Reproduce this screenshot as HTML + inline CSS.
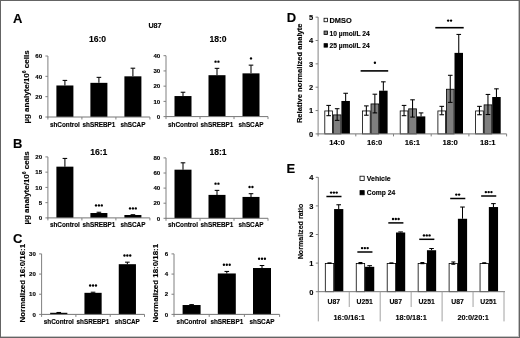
<!DOCTYPE html>
<html><head><meta charset="utf-8"><title>Figure</title>
<style>html,body{margin:0;padding:0;background:#fff;}body{width:520px;height:338px;overflow:hidden;}svg{display:block;font-family:'Liberation Sans', sans-serif;}</style>
</head><body>
<svg width="520" height="338" viewBox="0 0 520 338">
<defs><filter id="bl" x="0" y="0" width="520" height="338" filterUnits="userSpaceOnUse"><feGaussianBlur stdDeviation="0.35"/></filter></defs>
<rect x="0" y="0" width="520" height="338" fill="#fff"/>
<g filter="url(#bl)">
<text x="17.8" y="22.6" font-size="13" text-anchor="middle" font-weight="bold" fill="#000" stroke="#000" stroke-width="0.14">A</text>
<text x="17.8" y="147.6" font-size="13" text-anchor="middle" font-weight="bold" fill="#000" stroke="#000" stroke-width="0.14">B</text>
<text x="17.8" y="242.6" font-size="13" text-anchor="middle" font-weight="bold" fill="#000" stroke="#000" stroke-width="0.14">C</text>
<text x="291.4" y="22" font-size="13" text-anchor="middle" font-weight="bold" fill="#000" stroke="#000" stroke-width="0.14">D</text>
<text x="290.8" y="172.5" font-size="13" text-anchor="middle" font-weight="bold" fill="#000" stroke="#000" stroke-width="0.14">E</text>
<text x="155" y="28" font-size="7.2" text-anchor="middle" font-weight="bold" fill="#000" stroke="#000" stroke-width="0.14">U87</text>
<line x1="64.90" y1="80.40" x2="64.90" y2="85.48" stroke="#000" stroke-width="1.05"/>
<line x1="62.60" y1="80.40" x2="67.20" y2="80.40" stroke="#000" stroke-width="1.05"/>
<rect x="56.40" y="85.48" width="17.00" height="31.52" fill="#000"/>
<line x1="98.90" y1="77.35" x2="98.90" y2="82.84" stroke="#000" stroke-width="1.05"/>
<line x1="96.60" y1="77.35" x2="101.20" y2="77.35" stroke="#000" stroke-width="1.05"/>
<rect x="90.40" y="82.84" width="17.00" height="34.16" fill="#000"/>
<line x1="132.90" y1="68.20" x2="132.90" y2="76.33" stroke="#000" stroke-width="1.05"/>
<line x1="130.60" y1="68.20" x2="135.20" y2="68.20" stroke="#000" stroke-width="1.05"/>
<rect x="124.40" y="76.33" width="17.00" height="40.67" fill="#000"/>
<line x1="47.90" y1="56.00" x2="47.90" y2="117.50" stroke="#808080" stroke-width="1"/>
<line x1="47.40" y1="117.00" x2="149.90" y2="117.00" stroke="#767676" stroke-width="1"/>
<line x1="45.40" y1="117.00" x2="47.90" y2="117.00" stroke="#808080" stroke-width="1"/>
<text x="42.1" y="119.2" font-size="6.1" text-anchor="end" font-weight="bold" fill="#000" stroke="#000" stroke-width="0.14">0</text>
<line x1="45.40" y1="96.67" x2="47.90" y2="96.67" stroke="#808080" stroke-width="1"/>
<text x="42.1" y="98.9" font-size="6.1" text-anchor="end" font-weight="bold" fill="#000" stroke="#000" stroke-width="0.14">20</text>
<line x1="45.40" y1="76.33" x2="47.90" y2="76.33" stroke="#808080" stroke-width="1"/>
<text x="42.1" y="78.5" font-size="6.1" text-anchor="end" font-weight="bold" fill="#000" stroke="#000" stroke-width="0.14">40</text>
<line x1="45.40" y1="56.00" x2="47.90" y2="56.00" stroke="#808080" stroke-width="1"/>
<text x="42.1" y="58.2" font-size="6.1" text-anchor="end" font-weight="bold" fill="#000" stroke="#000" stroke-width="0.14">60</text>
<line x1="47.90" y1="117.00" x2="47.90" y2="119.50" stroke="#808080" stroke-width="1"/>
<line x1="81.90" y1="117.00" x2="81.90" y2="119.50" stroke="#808080" stroke-width="1"/>
<line x1="115.90" y1="117.00" x2="115.90" y2="119.50" stroke="#808080" stroke-width="1"/>
<line x1="149.90" y1="117.00" x2="149.90" y2="119.50" stroke="#808080" stroke-width="1"/>
<text x="64.9" y="126.8" font-size="6.35" text-anchor="middle" font-weight="bold" fill="#000" stroke="#000" stroke-width="0.14">shControl</text>
<text x="98.9" y="126.8" font-size="6.35" text-anchor="middle" font-weight="bold" fill="#000" stroke="#000" stroke-width="0.14">shSREBP1</text>
<text x="132.9" y="126.8" font-size="6.35" text-anchor="middle" font-weight="bold" fill="#000" stroke="#000" stroke-width="0.14">shSCAP</text>
<text x="97.5" y="41.6" font-size="8.6" text-anchor="middle" font-weight="bold" fill="#000" stroke="#000" stroke-width="0.14">16:0</text>
<line x1="183.00" y1="92.24" x2="183.00" y2="96.05" stroke="#000" stroke-width="1.05"/>
<line x1="180.70" y1="92.24" x2="185.30" y2="92.24" stroke="#000" stroke-width="1.05"/>
<rect x="174.50" y="96.05" width="17.00" height="20.55" fill="#000"/>
<line x1="217.00" y1="68.34" x2="217.00" y2="75.19" stroke="#000" stroke-width="1.05"/>
<line x1="214.70" y1="68.34" x2="219.30" y2="68.34" stroke="#000" stroke-width="1.05"/>
<rect x="208.50" y="75.19" width="17.00" height="41.41" fill="#000"/>
<circle cx="215.55" cy="61.64" r="1.18" fill="#000"/>
<circle cx="218.45" cy="61.64" r="1.18" fill="#000"/>
<line x1="251.00" y1="65.14" x2="251.00" y2="73.36" stroke="#000" stroke-width="1.05"/>
<line x1="248.70" y1="65.14" x2="253.30" y2="65.14" stroke="#000" stroke-width="1.05"/>
<rect x="242.50" y="73.36" width="17.00" height="43.24" fill="#000"/>
<circle cx="251.00" cy="58.44" r="1.18" fill="#000"/>
<line x1="166.00" y1="55.70" x2="166.00" y2="117.10" stroke="#808080" stroke-width="1"/>
<line x1="165.50" y1="116.60" x2="268.00" y2="116.60" stroke="#767676" stroke-width="1"/>
<line x1="163.50" y1="116.60" x2="166.00" y2="116.60" stroke="#808080" stroke-width="1"/>
<text x="160.2" y="118.8" font-size="6.1" text-anchor="end" font-weight="bold" fill="#000" stroke="#000" stroke-width="0.14">0</text>
<line x1="163.50" y1="101.38" x2="166.00" y2="101.38" stroke="#808080" stroke-width="1"/>
<text x="160.2" y="103.6" font-size="6.1" text-anchor="end" font-weight="bold" fill="#000" stroke="#000" stroke-width="0.14">10</text>
<line x1="163.50" y1="86.15" x2="166.00" y2="86.15" stroke="#808080" stroke-width="1"/>
<text x="160.2" y="88.4" font-size="6.1" text-anchor="end" font-weight="bold" fill="#000" stroke="#000" stroke-width="0.14">20</text>
<line x1="163.50" y1="70.93" x2="166.00" y2="70.93" stroke="#808080" stroke-width="1"/>
<text x="160.2" y="73.1" font-size="6.1" text-anchor="end" font-weight="bold" fill="#000" stroke="#000" stroke-width="0.14">30</text>
<line x1="163.50" y1="55.70" x2="166.00" y2="55.70" stroke="#808080" stroke-width="1"/>
<text x="160.2" y="57.9" font-size="6.1" text-anchor="end" font-weight="bold" fill="#000" stroke="#000" stroke-width="0.14">40</text>
<line x1="166.00" y1="116.60" x2="166.00" y2="119.10" stroke="#808080" stroke-width="1"/>
<line x1="200.00" y1="116.60" x2="200.00" y2="119.10" stroke="#808080" stroke-width="1"/>
<line x1="234.00" y1="116.60" x2="234.00" y2="119.10" stroke="#808080" stroke-width="1"/>
<line x1="268.00" y1="116.60" x2="268.00" y2="119.10" stroke="#808080" stroke-width="1"/>
<text x="183.0" y="126.8" font-size="6.35" text-anchor="middle" font-weight="bold" fill="#000" stroke="#000" stroke-width="0.14">shControl</text>
<text x="217.0" y="126.8" font-size="6.35" text-anchor="middle" font-weight="bold" fill="#000" stroke="#000" stroke-width="0.14">shSREBP1</text>
<text x="251.0" y="126.8" font-size="6.35" text-anchor="middle" font-weight="bold" fill="#000" stroke="#000" stroke-width="0.14">shSCAP</text>
<text x="218.0" y="41.6" font-size="8.6" text-anchor="middle" font-weight="bold" fill="#000" stroke="#000" stroke-width="0.14">18:0</text>
<line x1="64.90" y1="158.43" x2="64.90" y2="166.66" stroke="#000" stroke-width="1.05"/>
<line x1="62.60" y1="158.43" x2="67.20" y2="158.43" stroke="#000" stroke-width="1.05"/>
<rect x="56.40" y="166.66" width="17.00" height="51.24" fill="#000"/>
<line x1="98.90" y1="212.26" x2="98.90" y2="213.02" stroke="#000" stroke-width="1.05"/>
<line x1="96.60" y1="212.26" x2="101.20" y2="212.26" stroke="#000" stroke-width="1.05"/>
<rect x="90.40" y="213.02" width="17.00" height="4.88" fill="#000"/>
<circle cx="96.00" cy="205.40" r="1.18" fill="#000"/>
<circle cx="98.90" cy="205.40" r="1.18" fill="#000"/>
<circle cx="101.80" cy="205.40" r="1.18" fill="#000"/>
<line x1="132.90" y1="214.70" x2="132.90" y2="215.00" stroke="#000" stroke-width="1.05"/>
<line x1="130.60" y1="214.70" x2="135.20" y2="214.70" stroke="#000" stroke-width="1.05"/>
<rect x="124.40" y="215.00" width="17.00" height="2.90" fill="#000"/>
<circle cx="130.00" cy="208.40" r="1.18" fill="#000"/>
<circle cx="132.90" cy="208.40" r="1.18" fill="#000"/>
<circle cx="135.80" cy="208.40" r="1.18" fill="#000"/>
<line x1="47.90" y1="156.90" x2="47.90" y2="218.40" stroke="#808080" stroke-width="1"/>
<line x1="47.40" y1="217.90" x2="149.90" y2="217.90" stroke="#767676" stroke-width="1"/>
<line x1="45.40" y1="217.90" x2="47.90" y2="217.90" stroke="#808080" stroke-width="1"/>
<text x="42.1" y="220.1" font-size="6.1" text-anchor="end" font-weight="bold" fill="#000" stroke="#000" stroke-width="0.14">0</text>
<line x1="45.40" y1="202.65" x2="47.90" y2="202.65" stroke="#808080" stroke-width="1"/>
<text x="42.1" y="204.8" font-size="6.1" text-anchor="end" font-weight="bold" fill="#000" stroke="#000" stroke-width="0.14">5</text>
<line x1="45.40" y1="187.40" x2="47.90" y2="187.40" stroke="#808080" stroke-width="1"/>
<text x="42.1" y="189.6" font-size="6.1" text-anchor="end" font-weight="bold" fill="#000" stroke="#000" stroke-width="0.14">10</text>
<line x1="45.40" y1="172.15" x2="47.90" y2="172.15" stroke="#808080" stroke-width="1"/>
<text x="42.1" y="174.3" font-size="6.1" text-anchor="end" font-weight="bold" fill="#000" stroke="#000" stroke-width="0.14">15</text>
<line x1="45.40" y1="156.90" x2="47.90" y2="156.90" stroke="#808080" stroke-width="1"/>
<text x="42.1" y="159.1" font-size="6.1" text-anchor="end" font-weight="bold" fill="#000" stroke="#000" stroke-width="0.14">20</text>
<line x1="47.90" y1="217.90" x2="47.90" y2="220.40" stroke="#808080" stroke-width="1"/>
<line x1="81.90" y1="217.90" x2="81.90" y2="220.40" stroke="#808080" stroke-width="1"/>
<line x1="115.90" y1="217.90" x2="115.90" y2="220.40" stroke="#808080" stroke-width="1"/>
<line x1="149.90" y1="217.90" x2="149.90" y2="220.40" stroke="#808080" stroke-width="1"/>
<text x="64.9" y="227.1" font-size="6.35" text-anchor="middle" font-weight="bold" fill="#000" stroke="#000" stroke-width="0.14">shControl</text>
<text x="98.9" y="227.1" font-size="6.35" text-anchor="middle" font-weight="bold" fill="#000" stroke="#000" stroke-width="0.14">shSREBP1</text>
<text x="132.9" y="227.1" font-size="6.35" text-anchor="middle" font-weight="bold" fill="#000" stroke="#000" stroke-width="0.14">shSCAP</text>
<text x="98.8" y="155.0" font-size="8.6" text-anchor="middle" font-weight="bold" fill="#000" stroke="#000" stroke-width="0.14">16:1</text>
<line x1="183.00" y1="162.81" x2="183.00" y2="169.68" stroke="#000" stroke-width="1.05"/>
<line x1="180.70" y1="162.81" x2="185.30" y2="162.81" stroke="#000" stroke-width="1.05"/>
<rect x="174.50" y="169.68" width="17.00" height="48.62" fill="#000"/>
<line x1="217.00" y1="190.37" x2="217.00" y2="194.90" stroke="#000" stroke-width="1.05"/>
<line x1="214.70" y1="190.37" x2="219.30" y2="190.37" stroke="#000" stroke-width="1.05"/>
<rect x="208.50" y="194.90" width="17.00" height="23.41" fill="#000"/>
<circle cx="215.55" cy="183.67" r="1.18" fill="#000"/>
<circle cx="218.45" cy="183.67" r="1.18" fill="#000"/>
<line x1="251.00" y1="193.69" x2="251.00" y2="196.93" stroke="#000" stroke-width="1.05"/>
<line x1="248.70" y1="193.69" x2="253.30" y2="193.69" stroke="#000" stroke-width="1.05"/>
<rect x="242.50" y="196.93" width="17.00" height="21.37" fill="#000"/>
<circle cx="249.55" cy="186.99" r="1.18" fill="#000"/>
<circle cx="252.45" cy="186.99" r="1.18" fill="#000"/>
<line x1="166.00" y1="157.90" x2="166.00" y2="218.80" stroke="#808080" stroke-width="1"/>
<line x1="165.50" y1="218.30" x2="268.00" y2="218.30" stroke="#767676" stroke-width="1"/>
<line x1="163.50" y1="218.30" x2="166.00" y2="218.30" stroke="#808080" stroke-width="1"/>
<text x="160.2" y="220.5" font-size="6.1" text-anchor="end" font-weight="bold" fill="#000" stroke="#000" stroke-width="0.14">0</text>
<line x1="163.50" y1="203.20" x2="166.00" y2="203.20" stroke="#808080" stroke-width="1"/>
<text x="160.2" y="205.4" font-size="6.1" text-anchor="end" font-weight="bold" fill="#000" stroke="#000" stroke-width="0.14">20</text>
<line x1="163.50" y1="188.10" x2="166.00" y2="188.10" stroke="#808080" stroke-width="1"/>
<text x="160.2" y="190.3" font-size="6.1" text-anchor="end" font-weight="bold" fill="#000" stroke="#000" stroke-width="0.14">40</text>
<line x1="163.50" y1="173.00" x2="166.00" y2="173.00" stroke="#808080" stroke-width="1"/>
<text x="160.2" y="175.2" font-size="6.1" text-anchor="end" font-weight="bold" fill="#000" stroke="#000" stroke-width="0.14">60</text>
<line x1="163.50" y1="157.90" x2="166.00" y2="157.90" stroke="#808080" stroke-width="1"/>
<text x="160.2" y="160.1" font-size="6.1" text-anchor="end" font-weight="bold" fill="#000" stroke="#000" stroke-width="0.14">80</text>
<line x1="166.00" y1="218.30" x2="166.00" y2="220.80" stroke="#808080" stroke-width="1"/>
<line x1="200.00" y1="218.30" x2="200.00" y2="220.80" stroke="#808080" stroke-width="1"/>
<line x1="234.00" y1="218.30" x2="234.00" y2="220.80" stroke="#808080" stroke-width="1"/>
<line x1="268.00" y1="218.30" x2="268.00" y2="220.80" stroke="#808080" stroke-width="1"/>
<text x="183.0" y="227.1" font-size="6.35" text-anchor="middle" font-weight="bold" fill="#000" stroke="#000" stroke-width="0.14">shControl</text>
<text x="217.0" y="227.1" font-size="6.35" text-anchor="middle" font-weight="bold" fill="#000" stroke="#000" stroke-width="0.14">shSREBP1</text>
<text x="251.0" y="227.1" font-size="6.35" text-anchor="middle" font-weight="bold" fill="#000" stroke="#000" stroke-width="0.14">shSCAP</text>
<text x="218.0" y="155.0" font-size="8.6" text-anchor="middle" font-weight="bold" fill="#000" stroke="#000" stroke-width="0.14">18:1</text>
<line x1="58.75" y1="312.48" x2="58.75" y2="312.79" stroke="#000" stroke-width="1.05"/>
<line x1="56.45" y1="312.48" x2="61.05" y2="312.48" stroke="#000" stroke-width="1.05"/>
<rect x="50.15" y="312.79" width="17.20" height="1.61" fill="#000"/>
<line x1="93.05" y1="292.22" x2="93.05" y2="292.82" stroke="#000" stroke-width="1.05"/>
<line x1="90.75" y1="292.22" x2="95.35" y2="292.22" stroke="#000" stroke-width="1.05"/>
<rect x="84.45" y="292.82" width="17.20" height="21.58" fill="#000"/>
<circle cx="90.15" cy="285.52" r="1.18" fill="#000"/>
<circle cx="93.05" cy="285.52" r="1.18" fill="#000"/>
<circle cx="95.95" cy="285.52" r="1.18" fill="#000"/>
<line x1="127.35" y1="262.17" x2="127.35" y2="264.19" stroke="#000" stroke-width="1.05"/>
<line x1="125.05" y1="262.17" x2="129.65" y2="262.17" stroke="#000" stroke-width="1.05"/>
<rect x="118.75" y="264.19" width="17.20" height="50.21" fill="#000"/>
<circle cx="124.45" cy="255.47" r="1.18" fill="#000"/>
<circle cx="127.35" cy="255.47" r="1.18" fill="#000"/>
<circle cx="130.25" cy="255.47" r="1.18" fill="#000"/>
<line x1="41.60" y1="253.90" x2="41.60" y2="314.90" stroke="#808080" stroke-width="1"/>
<line x1="41.10" y1="314.40" x2="144.50" y2="314.40" stroke="#767676" stroke-width="1"/>
<line x1="39.10" y1="314.40" x2="41.60" y2="314.40" stroke="#808080" stroke-width="1"/>
<text x="35.8" y="316.6" font-size="6.1" text-anchor="end" font-weight="bold" fill="#000" stroke="#000" stroke-width="0.14">0</text>
<line x1="39.10" y1="294.23" x2="41.60" y2="294.23" stroke="#808080" stroke-width="1"/>
<text x="35.8" y="296.4" font-size="6.1" text-anchor="end" font-weight="bold" fill="#000" stroke="#000" stroke-width="0.14">10</text>
<line x1="39.10" y1="274.07" x2="41.60" y2="274.07" stroke="#808080" stroke-width="1"/>
<text x="35.8" y="276.3" font-size="6.1" text-anchor="end" font-weight="bold" fill="#000" stroke="#000" stroke-width="0.14">20</text>
<line x1="39.10" y1="253.90" x2="41.60" y2="253.90" stroke="#808080" stroke-width="1"/>
<text x="35.8" y="256.1" font-size="6.1" text-anchor="end" font-weight="bold" fill="#000" stroke="#000" stroke-width="0.14">30</text>
<line x1="41.60" y1="314.40" x2="41.60" y2="316.90" stroke="#808080" stroke-width="1"/>
<line x1="75.90" y1="314.40" x2="75.90" y2="316.90" stroke="#808080" stroke-width="1"/>
<line x1="110.20" y1="314.40" x2="110.20" y2="316.90" stroke="#808080" stroke-width="1"/>
<line x1="144.50" y1="314.40" x2="144.50" y2="316.90" stroke="#808080" stroke-width="1"/>
<text x="58.8" y="324" font-size="6.35" text-anchor="middle" font-weight="bold" fill="#000" stroke="#000" stroke-width="0.14">shControl</text>
<text x="93.0" y="324" font-size="6.35" text-anchor="middle" font-weight="bold" fill="#000" stroke="#000" stroke-width="0.14">shSREBP1</text>
<text x="127.3" y="324" font-size="6.35" text-anchor="middle" font-weight="bold" fill="#000" stroke="#000" stroke-width="0.14">shSCAP</text>
<line x1="191.60" y1="304.62" x2="191.60" y2="305.02" stroke="#000" stroke-width="1.05"/>
<line x1="189.30" y1="304.62" x2="193.90" y2="304.62" stroke="#000" stroke-width="1.05"/>
<rect x="182.60" y="305.02" width="18.00" height="9.38" fill="#000"/>
<line x1="226.80" y1="271.44" x2="226.80" y2="273.46" stroke="#000" stroke-width="1.05"/>
<line x1="224.50" y1="271.44" x2="229.10" y2="271.44" stroke="#000" stroke-width="1.05"/>
<rect x="217.80" y="273.46" width="18.00" height="40.94" fill="#000"/>
<circle cx="223.90" cy="264.75" r="1.18" fill="#000"/>
<circle cx="226.80" cy="264.75" r="1.18" fill="#000"/>
<circle cx="229.70" cy="264.75" r="1.18" fill="#000"/>
<line x1="262.00" y1="265.50" x2="262.00" y2="268.02" stroke="#000" stroke-width="1.05"/>
<line x1="259.70" y1="265.50" x2="264.30" y2="265.50" stroke="#000" stroke-width="1.05"/>
<rect x="253.00" y="268.02" width="18.00" height="46.38" fill="#000"/>
<circle cx="259.10" cy="258.80" r="1.18" fill="#000"/>
<circle cx="262.00" cy="258.80" r="1.18" fill="#000"/>
<circle cx="264.90" cy="258.80" r="1.18" fill="#000"/>
<line x1="174.00" y1="253.90" x2="174.00" y2="314.90" stroke="#808080" stroke-width="1"/>
<line x1="173.50" y1="314.40" x2="279.60" y2="314.40" stroke="#767676" stroke-width="1"/>
<line x1="171.50" y1="314.40" x2="174.00" y2="314.40" stroke="#808080" stroke-width="1"/>
<text x="168.2" y="316.6" font-size="6.1" text-anchor="end" font-weight="bold" fill="#000" stroke="#000" stroke-width="0.14">0</text>
<line x1="171.50" y1="294.23" x2="174.00" y2="294.23" stroke="#808080" stroke-width="1"/>
<text x="168.2" y="296.4" font-size="6.1" text-anchor="end" font-weight="bold" fill="#000" stroke="#000" stroke-width="0.14">2</text>
<line x1="171.50" y1="274.07" x2="174.00" y2="274.07" stroke="#808080" stroke-width="1"/>
<text x="168.2" y="276.3" font-size="6.1" text-anchor="end" font-weight="bold" fill="#000" stroke="#000" stroke-width="0.14">4</text>
<line x1="171.50" y1="253.90" x2="174.00" y2="253.90" stroke="#808080" stroke-width="1"/>
<text x="168.2" y="256.1" font-size="6.1" text-anchor="end" font-weight="bold" fill="#000" stroke="#000" stroke-width="0.14">6</text>
<line x1="174.00" y1="314.40" x2="174.00" y2="316.90" stroke="#808080" stroke-width="1"/>
<line x1="209.20" y1="314.40" x2="209.20" y2="316.90" stroke="#808080" stroke-width="1"/>
<line x1="244.40" y1="314.40" x2="244.40" y2="316.90" stroke="#808080" stroke-width="1"/>
<line x1="279.60" y1="314.40" x2="279.60" y2="316.90" stroke="#808080" stroke-width="1"/>
<text x="191.6" y="324" font-size="6.35" text-anchor="middle" font-weight="bold" fill="#000" stroke="#000" stroke-width="0.14">shControl</text>
<text x="226.8" y="324" font-size="6.35" text-anchor="middle" font-weight="bold" fill="#000" stroke="#000" stroke-width="0.14">shSREBP1</text>
<text x="262.0" y="324" font-size="6.35" text-anchor="middle" font-weight="bold" fill="#000" stroke="#000" stroke-width="0.14">shSCAP</text>
<text x="28.6" y="87" font-size="8" text-anchor="middle" font-weight="bold" fill="#000" stroke="#000" stroke-width="0.14" transform="rotate(-90 28.6 87)">µg analyte/10<tspan dy="-2.5" font-size="5">6</tspan><tspan dy="2.5"> cells</tspan></text>
<text x="28.6" y="188" font-size="8" text-anchor="middle" font-weight="bold" fill="#000" stroke="#000" stroke-width="0.14" transform="rotate(-90 28.6 188)">µg analyte/10<tspan dy="-2.5" font-size="5">6</tspan><tspan dy="2.5"> cells</tspan></text>
<text x="25.3" y="283.2" font-size="7.9" text-anchor="middle" font-weight="bold" fill="#000" stroke="#000" stroke-width="0.14" transform="rotate(-90 25.3 283.2)">Normalized 16:0/16:1</text>
<text x="157.8" y="283.2" font-size="7.9" text-anchor="middle" font-weight="bold" fill="#000" stroke="#000" stroke-width="0.14" transform="rotate(-90 157.8 283.2)">Normalized 18:0/18:1</text>
<rect x="324.80" y="110.95" width="7.70" height="22.95" fill="#fff" stroke="#000" stroke-width="0.8"/>
<line x1="328.65" y1="105.41" x2="328.65" y2="115.69" stroke="#000" stroke-width="1.05"/>
<line x1="326.35" y1="105.41" x2="330.95" y2="105.41" stroke="#000" stroke-width="1.05"/>
<line x1="326.35" y1="115.69" x2="330.95" y2="115.69" stroke="#000" stroke-width="1.05"/>
<rect x="333.30" y="114.92" width="7.70" height="18.98" fill="#7f7f7f" stroke="#000" stroke-width="0.8"/>
<line x1="337.15" y1="108.68" x2="337.15" y2="120.36" stroke="#000" stroke-width="1.05"/>
<line x1="334.85" y1="108.68" x2="339.45" y2="108.68" stroke="#000" stroke-width="1.05"/>
<line x1="334.85" y1="120.36" x2="339.45" y2="120.36" stroke="#000" stroke-width="1.05"/>
<line x1="345.65" y1="93.27" x2="345.65" y2="100.98" stroke="#000" stroke-width="1.05"/>
<line x1="343.35" y1="93.27" x2="347.95" y2="93.27" stroke="#000" stroke-width="1.05"/>
<rect x="341.40" y="100.98" width="8.50" height="32.92" fill="#000"/>
<text x="337.0" y="144.5" font-size="7.7" text-anchor="middle" font-weight="bold" fill="#000" stroke="#000" stroke-width="0.14">14:0</text>
<rect x="362.50" y="110.95" width="7.70" height="22.95" fill="#fff" stroke="#000" stroke-width="0.8"/>
<line x1="366.35" y1="105.88" x2="366.35" y2="115.22" stroke="#000" stroke-width="1.05"/>
<line x1="364.05" y1="105.88" x2="368.65" y2="105.88" stroke="#000" stroke-width="1.05"/>
<line x1="364.05" y1="115.22" x2="368.65" y2="115.22" stroke="#000" stroke-width="1.05"/>
<rect x="371.00" y="103.95" width="7.70" height="29.96" fill="#7f7f7f" stroke="#000" stroke-width="0.8"/>
<line x1="374.85" y1="94.20" x2="374.85" y2="112.89" stroke="#000" stroke-width="1.05"/>
<line x1="372.55" y1="94.20" x2="377.15" y2="94.20" stroke="#000" stroke-width="1.05"/>
<line x1="372.55" y1="112.89" x2="377.15" y2="112.89" stroke="#000" stroke-width="1.05"/>
<line x1="383.35" y1="81.83" x2="383.35" y2="90.70" stroke="#000" stroke-width="1.05"/>
<line x1="381.05" y1="81.83" x2="385.65" y2="81.83" stroke="#000" stroke-width="1.05"/>
<rect x="379.10" y="90.70" width="8.50" height="43.20" fill="#000"/>
<text x="374.7" y="144.5" font-size="7.7" text-anchor="middle" font-weight="bold" fill="#000" stroke="#000" stroke-width="0.14">16:0</text>
<rect x="400.20" y="110.95" width="7.70" height="22.95" fill="#fff" stroke="#000" stroke-width="0.8"/>
<line x1="404.05" y1="105.41" x2="404.05" y2="115.69" stroke="#000" stroke-width="1.05"/>
<line x1="401.75" y1="105.41" x2="406.35" y2="105.41" stroke="#000" stroke-width="1.05"/>
<line x1="401.75" y1="115.69" x2="406.35" y2="115.69" stroke="#000" stroke-width="1.05"/>
<rect x="408.70" y="108.85" width="7.70" height="25.05" fill="#7f7f7f" stroke="#000" stroke-width="0.8"/>
<line x1="412.55" y1="99.81" x2="412.55" y2="117.09" stroke="#000" stroke-width="1.05"/>
<line x1="410.25" y1="99.81" x2="414.85" y2="99.81" stroke="#000" stroke-width="1.05"/>
<line x1="410.25" y1="117.09" x2="414.85" y2="117.09" stroke="#000" stroke-width="1.05"/>
<line x1="421.05" y1="112.89" x2="421.05" y2="116.39" stroke="#000" stroke-width="1.05"/>
<line x1="418.75" y1="112.89" x2="423.35" y2="112.89" stroke="#000" stroke-width="1.05"/>
<rect x="416.80" y="116.39" width="8.50" height="17.51" fill="#000"/>
<text x="412.4" y="144.5" font-size="7.7" text-anchor="middle" font-weight="bold" fill="#000" stroke="#000" stroke-width="0.14">16:1</text>
<rect x="437.90" y="110.95" width="7.70" height="22.95" fill="#fff" stroke="#000" stroke-width="0.8"/>
<line x1="441.75" y1="106.35" x2="441.75" y2="114.75" stroke="#000" stroke-width="1.05"/>
<line x1="439.45" y1="106.35" x2="444.05" y2="106.35" stroke="#000" stroke-width="1.05"/>
<line x1="439.45" y1="114.75" x2="444.05" y2="114.75" stroke="#000" stroke-width="1.05"/>
<rect x="446.40" y="89.23" width="7.70" height="44.67" fill="#7f7f7f" stroke="#000" stroke-width="0.8"/>
<line x1="450.25" y1="75.29" x2="450.25" y2="102.38" stroke="#000" stroke-width="1.05"/>
<line x1="447.95" y1="75.29" x2="452.55" y2="75.29" stroke="#000" stroke-width="1.05"/>
<line x1="447.95" y1="102.38" x2="452.55" y2="102.38" stroke="#000" stroke-width="1.05"/>
<line x1="458.75" y1="34.43" x2="458.75" y2="52.88" stroke="#000" stroke-width="1.05"/>
<line x1="456.45" y1="34.43" x2="461.05" y2="34.43" stroke="#000" stroke-width="1.05"/>
<rect x="454.50" y="52.88" width="8.50" height="81.02" fill="#000"/>
<text x="450.1" y="144.5" font-size="7.7" text-anchor="middle" font-weight="bold" fill="#000" stroke="#000" stroke-width="0.14">18:0</text>
<rect x="475.60" y="110.95" width="7.70" height="22.95" fill="#fff" stroke="#000" stroke-width="0.8"/>
<line x1="479.45" y1="106.35" x2="479.45" y2="114.75" stroke="#000" stroke-width="1.05"/>
<line x1="477.15" y1="106.35" x2="481.75" y2="106.35" stroke="#000" stroke-width="1.05"/>
<line x1="477.15" y1="114.75" x2="481.75" y2="114.75" stroke="#000" stroke-width="1.05"/>
<rect x="484.10" y="104.88" width="7.70" height="29.02" fill="#7f7f7f" stroke="#000" stroke-width="0.8"/>
<line x1="487.95" y1="94.44" x2="487.95" y2="114.52" stroke="#000" stroke-width="1.05"/>
<line x1="485.65" y1="94.44" x2="490.25" y2="94.44" stroke="#000" stroke-width="1.05"/>
<line x1="485.65" y1="114.52" x2="490.25" y2="114.52" stroke="#000" stroke-width="1.05"/>
<line x1="496.45" y1="88.83" x2="496.45" y2="97.01" stroke="#000" stroke-width="1.05"/>
<line x1="494.15" y1="88.83" x2="498.75" y2="88.83" stroke="#000" stroke-width="1.05"/>
<rect x="492.20" y="97.01" width="8.50" height="36.89" fill="#000"/>
<text x="487.8" y="144.5" font-size="7.7" text-anchor="middle" font-weight="bold" fill="#000" stroke="#000" stroke-width="0.14">18:1</text>
<line x1="318.10" y1="17.10" x2="318.10" y2="134.40" stroke="#808080" stroke-width="1"/>
<line x1="317.60" y1="133.90" x2="506.60" y2="133.90" stroke="#767676" stroke-width="1"/>
<line x1="315.60" y1="133.90" x2="318.10" y2="133.90" stroke="#808080" stroke-width="1"/>
<text x="313.1" y="136.7" font-size="7.5" text-anchor="end" font-weight="bold" fill="#000" stroke="#000" stroke-width="0.14">0</text>
<line x1="315.60" y1="110.55" x2="318.10" y2="110.55" stroke="#808080" stroke-width="1"/>
<text x="313.1" y="113.4" font-size="7.5" text-anchor="end" font-weight="bold" fill="#000" stroke="#000" stroke-width="0.14">1</text>
<line x1="315.60" y1="87.20" x2="318.10" y2="87.20" stroke="#808080" stroke-width="1"/>
<text x="313.1" y="90.0" font-size="7.5" text-anchor="end" font-weight="bold" fill="#000" stroke="#000" stroke-width="0.14">2</text>
<line x1="315.60" y1="63.85" x2="318.10" y2="63.85" stroke="#808080" stroke-width="1"/>
<text x="313.1" y="66.6" font-size="7.5" text-anchor="end" font-weight="bold" fill="#000" stroke="#000" stroke-width="0.14">3</text>
<line x1="315.60" y1="40.50" x2="318.10" y2="40.50" stroke="#808080" stroke-width="1"/>
<text x="313.1" y="43.3" font-size="7.5" text-anchor="end" font-weight="bold" fill="#000" stroke="#000" stroke-width="0.14">4</text>
<line x1="315.60" y1="17.15" x2="318.10" y2="17.15" stroke="#808080" stroke-width="1"/>
<text x="313.1" y="20.0" font-size="7.5" text-anchor="end" font-weight="bold" fill="#000" stroke="#000" stroke-width="0.14">5</text>
<line x1="318.10" y1="133.90" x2="318.10" y2="136.40" stroke="#808080" stroke-width="1"/>
<line x1="355.80" y1="133.90" x2="355.80" y2="136.40" stroke="#808080" stroke-width="1"/>
<line x1="393.50" y1="133.90" x2="393.50" y2="136.40" stroke="#808080" stroke-width="1"/>
<line x1="431.20" y1="133.90" x2="431.20" y2="136.40" stroke="#808080" stroke-width="1"/>
<line x1="468.90" y1="133.90" x2="468.90" y2="136.40" stroke="#808080" stroke-width="1"/>
<line x1="506.60" y1="133.90" x2="506.60" y2="136.40" stroke="#808080" stroke-width="1"/>
<text x="301.6" y="73.3" font-size="7.6" text-anchor="middle" font-weight="bold" fill="#000" stroke="#000" stroke-width="0.14" transform="rotate(-90 301.6 73.3)">Relative normalized analyte</text>
<rect x="324.05" y="18.25" width="3.50" height="3.50" fill="#fff" stroke="#000" stroke-width="0.8"/>
<text x="329.5" y="22.7" font-size="7.4" text-anchor="start" font-weight="bold" fill="#000" stroke="#000" stroke-width="0.14">DMSO</text>
<rect x="324.05" y="31.05" width="3.50" height="3.50" fill="#7f7f7f" stroke="#000" stroke-width="0.8"/>
<text x="329.5" y="35.5" font-size="7.4" text-anchor="start" font-weight="bold" fill="#000" stroke="#000" stroke-width="0.14" textLength="40.3" lengthAdjust="spacingAndGlyphs">10 µmol/L 24</text>
<rect x="324.05" y="43.65" width="3.50" height="3.50" fill="#000" stroke="#000" stroke-width="0.8"/>
<text x="329.5" y="48.1" font-size="7.4" text-anchor="start" font-weight="bold" fill="#000" stroke="#000" stroke-width="0.14" textLength="40.3" lengthAdjust="spacingAndGlyphs">25 µmol/L 24</text>
<line x1="360.60" y1="70.90" x2="388.20" y2="70.90" stroke="#000" stroke-width="1.6"/>
<circle cx="374.90" cy="62.70" r="1.18" fill="#000"/>
<line x1="435.30" y1="27.70" x2="463.70" y2="27.70" stroke="#000" stroke-width="1.6"/>
<circle cx="448.15" cy="20.60" r="1.18" fill="#000"/>
<circle cx="451.05" cy="20.60" r="1.18" fill="#000"/>
<rect x="325.30" y="263.50" width="8.40" height="28.20" fill="#fff" stroke="#000" stroke-width="0.8"/>
<line x1="329.50" y1="263.10" x2="329.50" y2="263.10" stroke="#000" stroke-width="1.05"/>
<line x1="327.50" y1="263.10" x2="331.50" y2="263.10" stroke="#000" stroke-width="1.05"/>
<line x1="327.50" y1="263.10" x2="331.50" y2="263.10" stroke="#000" stroke-width="1.05"/>
<line x1="338.70" y1="204.76" x2="338.70" y2="209.05" stroke="#000" stroke-width="1.05"/>
<line x1="336.40" y1="204.76" x2="341.00" y2="204.76" stroke="#000" stroke-width="1.05"/>
<rect x="334.10" y="209.05" width="9.20" height="82.65" fill="#000"/>
<line x1="326.40" y1="196.50" x2="341.50" y2="196.50" stroke="#000" stroke-width="1.5"/>
<circle cx="331.10" cy="192.60" r="1.2" fill="#000"/>
<circle cx="333.90" cy="192.60" r="1.2" fill="#000"/>
<circle cx="336.70" cy="192.60" r="1.2" fill="#000"/>
<text x="333.8" y="304.2" font-size="8" text-anchor="middle" font-weight="bold" fill="#000" stroke="#000" stroke-width="0.14" textLength="12.6" lengthAdjust="spacingAndGlyphs">U87</text>
<rect x="356.25" y="263.50" width="8.40" height="28.20" fill="#fff" stroke="#000" stroke-width="0.8"/>
<line x1="360.45" y1="262.53" x2="360.45" y2="263.67" stroke="#000" stroke-width="1.05"/>
<line x1="358.45" y1="262.53" x2="362.45" y2="262.53" stroke="#000" stroke-width="1.05"/>
<line x1="358.45" y1="263.67" x2="362.45" y2="263.67" stroke="#000" stroke-width="1.05"/>
<line x1="369.65" y1="265.67" x2="369.65" y2="266.82" stroke="#000" stroke-width="1.05"/>
<line x1="367.35" y1="265.67" x2="371.95" y2="265.67" stroke="#000" stroke-width="1.05"/>
<rect x="365.05" y="266.82" width="9.20" height="24.88" fill="#000"/>
<line x1="357.35" y1="252.00" x2="372.45" y2="252.00" stroke="#000" stroke-width="1.5"/>
<circle cx="362.05" cy="248.10" r="1.2" fill="#000"/>
<circle cx="364.85" cy="248.10" r="1.2" fill="#000"/>
<circle cx="367.65" cy="248.10" r="1.2" fill="#000"/>
<text x="364.7" y="304.2" font-size="8" text-anchor="middle" font-weight="bold" fill="#000" stroke="#000" stroke-width="0.14" textLength="16.3" lengthAdjust="spacingAndGlyphs">U251</text>
<rect x="387.20" y="263.50" width="8.40" height="28.20" fill="#fff" stroke="#000" stroke-width="0.8"/>
<line x1="391.40" y1="263.10" x2="391.40" y2="263.10" stroke="#000" stroke-width="1.05"/>
<line x1="389.40" y1="263.10" x2="393.40" y2="263.10" stroke="#000" stroke-width="1.05"/>
<line x1="389.40" y1="263.10" x2="393.40" y2="263.10" stroke="#000" stroke-width="1.05"/>
<line x1="400.60" y1="231.93" x2="400.60" y2="232.50" stroke="#000" stroke-width="1.05"/>
<line x1="398.30" y1="231.93" x2="402.90" y2="231.93" stroke="#000" stroke-width="1.05"/>
<rect x="396.00" y="232.50" width="9.20" height="59.20" fill="#000"/>
<line x1="388.30" y1="222.90" x2="403.40" y2="222.90" stroke="#000" stroke-width="1.5"/>
<circle cx="393.00" cy="219.00" r="1.2" fill="#000"/>
<circle cx="395.80" cy="219.00" r="1.2" fill="#000"/>
<circle cx="398.60" cy="219.00" r="1.2" fill="#000"/>
<text x="395.7" y="304.2" font-size="8" text-anchor="middle" font-weight="bold" fill="#000" stroke="#000" stroke-width="0.14" textLength="12.6" lengthAdjust="spacingAndGlyphs">U87</text>
<rect x="418.15" y="263.50" width="8.40" height="28.20" fill="#fff" stroke="#000" stroke-width="0.8"/>
<line x1="422.35" y1="262.53" x2="422.35" y2="263.67" stroke="#000" stroke-width="1.05"/>
<line x1="420.35" y1="262.53" x2="424.35" y2="262.53" stroke="#000" stroke-width="1.05"/>
<line x1="420.35" y1="263.67" x2="424.35" y2="263.67" stroke="#000" stroke-width="1.05"/>
<line x1="431.55" y1="248.51" x2="431.55" y2="250.23" stroke="#000" stroke-width="1.05"/>
<line x1="429.25" y1="248.51" x2="433.85" y2="248.51" stroke="#000" stroke-width="1.05"/>
<rect x="426.95" y="250.23" width="9.20" height="41.47" fill="#000"/>
<line x1="419.25" y1="239.30" x2="434.35" y2="239.30" stroke="#000" stroke-width="1.5"/>
<circle cx="423.95" cy="235.40" r="1.2" fill="#000"/>
<circle cx="426.75" cy="235.40" r="1.2" fill="#000"/>
<circle cx="429.55" cy="235.40" r="1.2" fill="#000"/>
<text x="426.6" y="304.2" font-size="8" text-anchor="middle" font-weight="bold" fill="#000" stroke="#000" stroke-width="0.14" textLength="16.3" lengthAdjust="spacingAndGlyphs">U251</text>
<rect x="449.10" y="263.50" width="8.40" height="28.20" fill="#fff" stroke="#000" stroke-width="0.8"/>
<line x1="453.30" y1="261.96" x2="453.30" y2="264.24" stroke="#000" stroke-width="1.05"/>
<line x1="451.30" y1="261.96" x2="455.30" y2="261.96" stroke="#000" stroke-width="1.05"/>
<line x1="451.30" y1="264.24" x2="455.30" y2="264.24" stroke="#000" stroke-width="1.05"/>
<line x1="462.50" y1="207.04" x2="462.50" y2="218.77" stroke="#000" stroke-width="1.05"/>
<line x1="460.20" y1="207.04" x2="464.80" y2="207.04" stroke="#000" stroke-width="1.05"/>
<rect x="457.90" y="218.77" width="9.20" height="72.93" fill="#000"/>
<line x1="450.20" y1="198.50" x2="465.30" y2="198.50" stroke="#000" stroke-width="1.5"/>
<circle cx="456.30" cy="194.60" r="1.2" fill="#000"/>
<circle cx="459.10" cy="194.60" r="1.2" fill="#000"/>
<text x="457.6" y="304.2" font-size="8" text-anchor="middle" font-weight="bold" fill="#000" stroke="#000" stroke-width="0.14" textLength="12.6" lengthAdjust="spacingAndGlyphs">U87</text>
<rect x="480.05" y="263.50" width="8.40" height="28.20" fill="#fff" stroke="#000" stroke-width="0.8"/>
<line x1="484.25" y1="262.81" x2="484.25" y2="263.39" stroke="#000" stroke-width="1.05"/>
<line x1="482.25" y1="262.81" x2="486.25" y2="262.81" stroke="#000" stroke-width="1.05"/>
<line x1="482.25" y1="263.39" x2="486.25" y2="263.39" stroke="#000" stroke-width="1.05"/>
<line x1="493.45" y1="203.61" x2="493.45" y2="207.04" stroke="#000" stroke-width="1.05"/>
<line x1="491.15" y1="203.61" x2="495.75" y2="203.61" stroke="#000" stroke-width="1.05"/>
<rect x="488.85" y="207.04" width="9.20" height="84.66" fill="#000"/>
<line x1="481.15" y1="196.00" x2="496.25" y2="196.00" stroke="#000" stroke-width="1.5"/>
<circle cx="485.85" cy="192.10" r="1.2" fill="#000"/>
<circle cx="488.65" cy="192.10" r="1.2" fill="#000"/>
<circle cx="491.45" cy="192.10" r="1.2" fill="#000"/>
<text x="488.5" y="304.2" font-size="8" text-anchor="middle" font-weight="bold" fill="#000" stroke="#000" stroke-width="0.14" textLength="16.3" lengthAdjust="spacingAndGlyphs">U251</text>
<line x1="318.30" y1="177.20" x2="318.30" y2="292.20" stroke="#808080" stroke-width="1"/>
<line x1="317.80" y1="291.70" x2="505.00" y2="291.70" stroke="#767676" stroke-width="1"/>
<line x1="315.80" y1="291.70" x2="318.30" y2="291.70" stroke="#808080" stroke-width="1"/>
<text x="313.3" y="294.5" font-size="7.5" text-anchor="end" font-weight="bold" fill="#000" stroke="#000" stroke-width="0.14">0</text>
<line x1="315.80" y1="263.10" x2="318.30" y2="263.10" stroke="#808080" stroke-width="1"/>
<text x="313.3" y="265.9" font-size="7.5" text-anchor="end" font-weight="bold" fill="#000" stroke="#000" stroke-width="0.14">1</text>
<line x1="315.80" y1="234.50" x2="318.30" y2="234.50" stroke="#808080" stroke-width="1"/>
<text x="313.3" y="237.3" font-size="7.5" text-anchor="end" font-weight="bold" fill="#000" stroke="#000" stroke-width="0.14">2</text>
<line x1="315.80" y1="205.90" x2="318.30" y2="205.90" stroke="#808080" stroke-width="1"/>
<text x="313.3" y="208.7" font-size="7.5" text-anchor="end" font-weight="bold" fill="#000" stroke="#000" stroke-width="0.14">3</text>
<line x1="315.80" y1="177.30" x2="318.30" y2="177.30" stroke="#808080" stroke-width="1"/>
<text x="313.3" y="180.1" font-size="7.5" text-anchor="end" font-weight="bold" fill="#000" stroke="#000" stroke-width="0.14">4</text>
<line x1="318.30" y1="291.70" x2="318.30" y2="321.40" stroke="#a2a2a2" stroke-width="1"/>
<line x1="349.25" y1="291.70" x2="349.25" y2="307.00" stroke="#a2a2a2" stroke-width="1"/>
<line x1="380.20" y1="291.70" x2="380.20" y2="321.40" stroke="#a2a2a2" stroke-width="1"/>
<line x1="411.15" y1="291.70" x2="411.15" y2="307.00" stroke="#a2a2a2" stroke-width="1"/>
<line x1="442.10" y1="291.70" x2="442.10" y2="321.40" stroke="#a2a2a2" stroke-width="1"/>
<line x1="473.05" y1="291.70" x2="473.05" y2="307.00" stroke="#a2a2a2" stroke-width="1"/>
<line x1="504.00" y1="291.70" x2="504.00" y2="321.40" stroke="#a2a2a2" stroke-width="1"/>
<text x="349.2" y="320" font-size="8" text-anchor="middle" font-weight="bold" fill="#000" stroke="#000" stroke-width="0.14" textLength="31.4" lengthAdjust="spacingAndGlyphs">16:0/16:1</text>
<text x="411.1" y="320" font-size="8" text-anchor="middle" font-weight="bold" fill="#000" stroke="#000" stroke-width="0.14" textLength="31.4" lengthAdjust="spacingAndGlyphs">18:0/18:1</text>
<text x="473.1" y="320" font-size="8" text-anchor="middle" font-weight="bold" fill="#000" stroke="#000" stroke-width="0.14" textLength="31.4" lengthAdjust="spacingAndGlyphs">20:0/20:1</text>
<text x="303.3" y="231.5" font-size="8" text-anchor="middle" font-weight="bold" fill="#000" stroke="#000" stroke-width="0.14" textLength="55.5" lengthAdjust="spacingAndGlyphs" transform="rotate(-90 303.3 231.5)">Normalized ratio</text>
<rect x="360.00" y="176.20" width="4.20" height="4.20" fill="#fff" stroke="#000" stroke-width="0.8"/>
<text x="366.8" y="181" font-size="8" text-anchor="start" font-weight="bold" fill="#000" stroke="#000" stroke-width="0.14" textLength="23.9" lengthAdjust="spacingAndGlyphs">Vehicle</text>
<rect x="360.00" y="190.60" width="4.20" height="4.20" fill="#000" stroke="#000" stroke-width="0.8"/>
<text x="366.8" y="194.9" font-size="8" text-anchor="start" font-weight="bold" fill="#000" stroke="#000" stroke-width="0.14" textLength="28.4" lengthAdjust="spacingAndGlyphs">Comp 24</text>
</g>
<rect x="0" y="336" width="520" height="1" fill="#c4c4c4"/>
<rect x="518" y="0" width="1" height="338" fill="#c0c0c0"/>
<rect x="0.5" y="0.5" width="519" height="337" fill="none" stroke="#646464" stroke-width="1"/>
</svg></body></html>
